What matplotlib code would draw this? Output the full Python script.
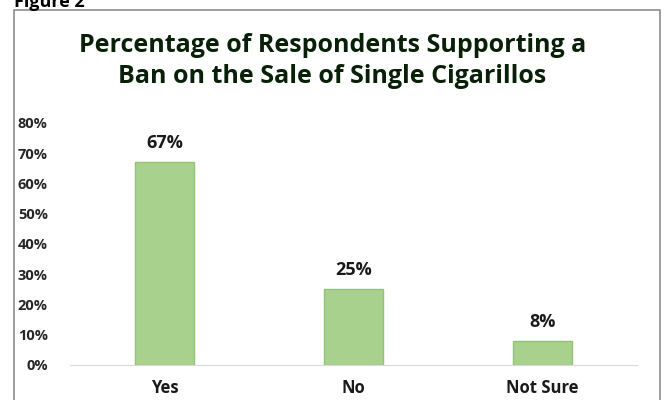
import matplotlib.pyplot as plt
from matplotlib.patches import Rectangle

categories = ['Yes', 'No', 'Not Sure']
values = [67, 25, 8]
yticks = [0, 10, 20, 30, 40, 50, 60, 70, 80]
title = 'Percentage of Respondents Supporting a\nBan on the Sale of Single Cigarillos'

plt.rcParams['font.family'] = ['Open Sans', 'DejaVu Sans']

W, H = 665, 400
fig = plt.figure(figsize=(W / 100, H / 100), dpi=100)

# outer chart frame
fig.patches.append(Rectangle((14 / W, -0.05), (660 - 14) / W, 1.05 - 10 / H,
                             transform=fig.transFigure, fill=False,
                             edgecolor='#8c8c8c', linewidth=1.2))
fig.text(14 / W, 1 - 2 / H, 'Figure 2', fontsize=13, fontweight='bold',
         ha='left', va='center')

ax = fig.add_axes([70 / W, 1 - 365 / H, (637 - 70) / W, (365 - 123) / H])
x = range(len(categories))
ax.bar(x, values, width=0.31, color='#a9d18e', edgecolor='#92c472', linewidth=1)
for i, v in enumerate(values):
    ax.text(i, v + 3.3, f'{v}%', ha='center', va='bottom', fontsize=13,
            fontweight='bold', color='#1a1a1a')

ax.set_xlim(-0.5, len(categories) - 0.5)
ax.set_ylim(0, 80)
ax.set_yticks(yticks)
ax.set_yticklabels([f'{t}%' for t in yticks], fontsize=10.5, fontweight='bold',
                   color='#262626')
ax.set_xticks(list(x))
ax.set_xticklabels(categories, fontsize=12, fontweight='bold', color='#1a1a1a')
ax.tick_params(axis='both', length=0)
ax.tick_params(axis='y', pad=16)
ax.tick_params(axis='x', pad=10)
for s in ['top', 'right', 'left']:
    ax.spines[s].set_visible(False)
ax.spines['bottom'].set_color('#d9d9d9')

fig.text(0.5, 1 - 61 / H, title, ha='center', va='center', fontsize=18,
         fontweight='bold', color='#082008', linespacing=1.3)

fig.savefig('out.png', dpi=100)
